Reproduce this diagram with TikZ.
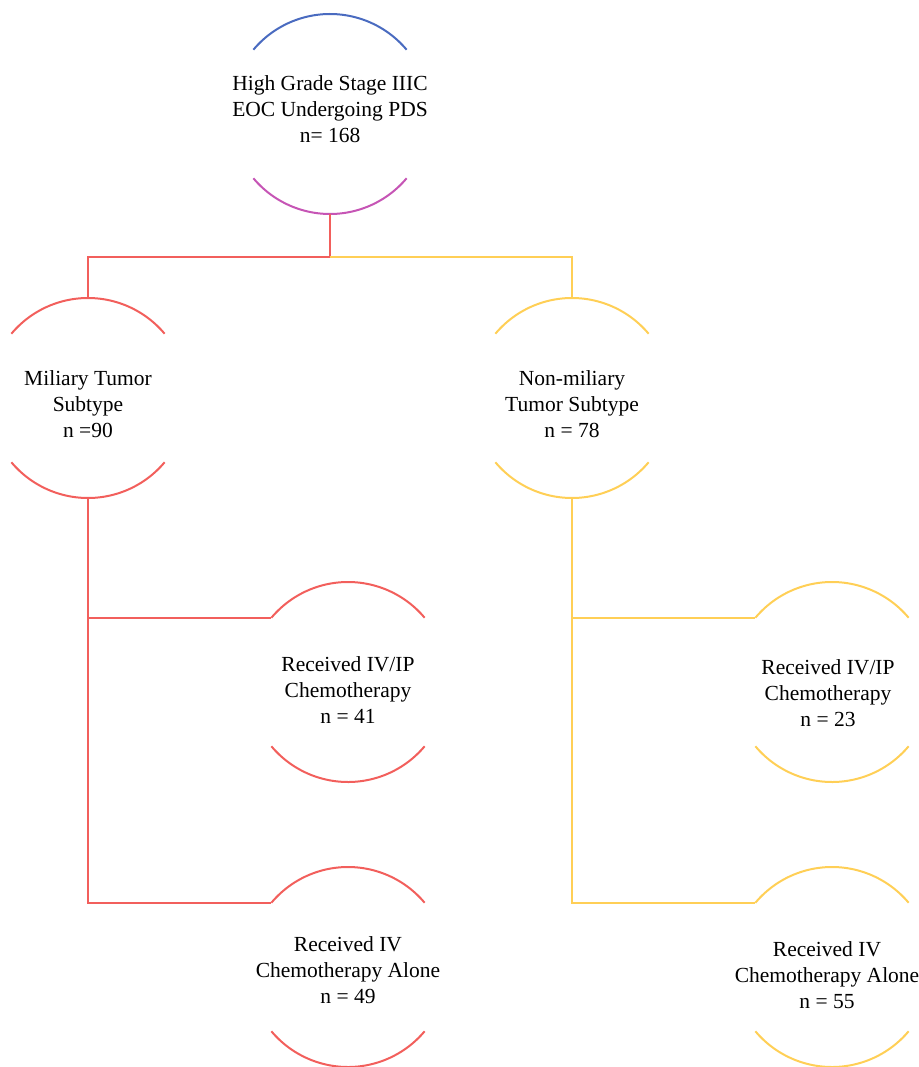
\documentclass[tikz,border=0pt]{standalone}
\usepackage{fontspec}
\setmainfont{Liberation Serif}
\usepackage{tikz}
\usetikzlibrary{positioning}

\definecolor{armred}{HTML}{F25F5C}
\definecolor{armyellow}{HTML}{FFCF56}
\definecolor{topblue}{HTML}{4A6BC0}
\definecolor{topmagenta}{HTML}{C655B5}

\begin{document}
\begin{tikzpicture}[x=1pt,y=1pt,
  grp/.style={circle,minimum size=200pt,inner sep=0pt,outer sep=0pt},
  grptext/.style={align=center,inner sep=0pt,font=\fontsize{21.5}{26}\selectfont},
  redline/.style={draw=armred,line width=2pt},
  yelline/.style={draw=armyellow,line width=2pt}]
\useasboundingbox (0,0) rectangle (918,-1067);
\node[grp,label={[grptext,yshift=5pt]center:{High Grade Stage IIIC\\EOC Undergoing PDS\\n= 168}}] (pds) at (330,-114) {};
\node[grp,label={[grptext,yshift=-6pt]center:{Miliary Tumor\\Subtype\\n =90}}] (mil) at (88,-398) {};
\node[grp,label={[grptext,yshift=-6pt]center:{Non-miliary\\Tumor Subtype\\n = 78}}] (nonmil) at (572,-398) {};
\node[grp,label={[grptext,yshift=-8pt]center:{Received IV/IP\\Chemotherapy\\n = 41}}] (milivip) at (348,-682) {};
\node[grp,label={[grptext,yshift=-3pt]center:{Received IV\\Chemotherapy Alone\\n = 49}}] (miliv) at (348,-967) {};
\node[grp,label={[grptext,yshift=-11pt,xshift=-4pt]center:{Received IV/IP\\Chemotherapy\\n = 23}}] (nonivip) at (832,-682) {};
\node[grp,label={[grptext,yshift=-8pt,xshift=-5pt]center:{Received IV\\Chemotherapy Alone\\n = 55}}] (noniv) at (832,-967) {};
% arcs above and below each group
\draw[draw=topblue,line width=2pt] (pds.40) arc[start angle=40,end angle=140,radius=100];
\draw[draw=topmagenta,line width=2pt] (pds.220) arc[start angle=220,end angle=320,radius=100];
\foreach \n in {mil,milivip,miliv}{
  \draw[redline] (\n.40) arc[start angle=40,end angle=140,radius=100];
  \draw[redline] (\n.220) arc[start angle=220,end angle=320,radius=100];
}
\foreach \n in {nonmil,nonivip,noniv}{
  \draw[yelline] (\n.40) arc[start angle=40,end angle=140,radius=100];
  \draw[yelline] (\n.220) arc[start angle=220,end angle=320,radius=100];
}
\coordinate (split) at (330,-257);
\draw[redline] (pds.south) -- (split) -| (mil.north);
\draw[yelline] (split) -| (nonmil.north);
\draw[redline] (mil.south) |- (milivip.140);
\draw[redline] (mil.south) |- (miliv.140);
\draw[yelline] (nonmil.south) |- (nonivip.140);
\draw[yelline] (nonmil.south) |- (noniv.140);
\end{tikzpicture}
\end{document}
